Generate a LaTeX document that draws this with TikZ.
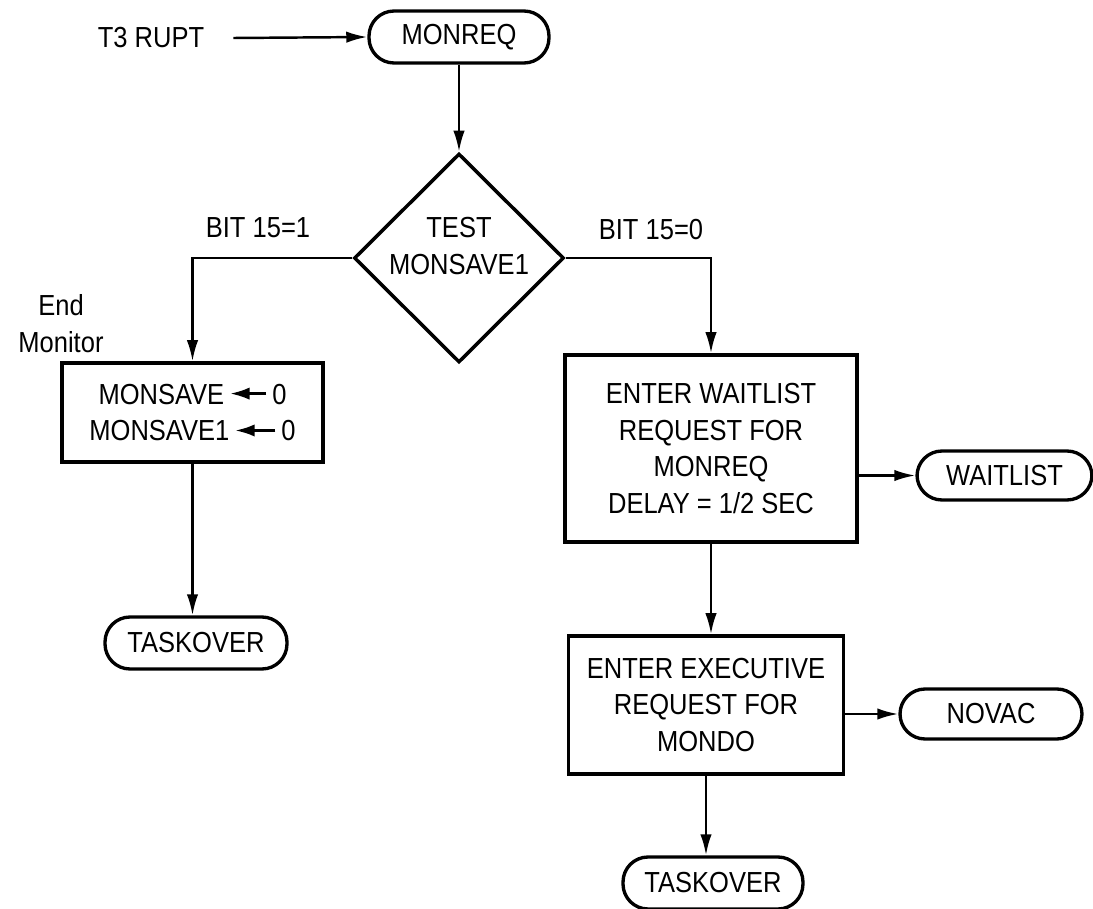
\documentclass[tikz,border=0pt]{standalone}
\usepackage{fontspec}
\setmainfont{Liberation Sans}[FakeStretch=0.88]
\usetikzlibrary{arrows.meta,shapes.geometric}

% lettering used throughout the chart
\newcommand\lettering{\fontsize{16.5}{21}\selectfont}
% small filled arrow used in the assignment statements
\newcommand\assignarrow[1]{\tikz[x=1cm,y=1cm,baseline=-0.36em]\draw[line width=1.4pt,-{Latex[length=11pt,width=7pt]}] (#1,0) -- (0,0);}

\tikzset{
  procbox/.style={draw, line width=2pt, align=center, inner sep=0pt},
  termbox/.style={draw, line width=1.9pt, rounded corners=0.5cm, minimum height=1.04cm, inner sep=0pt},
  decbox/.style={draw, diamond, line width=2pt, inner sep=0pt},
  flow/.style={line width=1.4pt, -{Latex[length=12pt,width=6.5pt]}},
}

\begin{document}
\begin{tikzpicture}[x=0.02cm, y=-0.02cm, font=\lettering]
  \useasboundingbox (0,0) rectangle (1093,909);

  % entry
  \node (t3) at (151,38) {T3 RUPT};
  \node[termbox, minimum width=3.6cm] (monreq) at (459,37) {MONREQ};

  % decision
  \node[decbox, minimum width=4.2cm, minimum height=4.18cm] (test) at (459,258) {};
  \node[align=center] (testtxt) at (459,246) {TEST\\MONSAVE1};
  \node (b1) at (258,228) {BIT 15=1};
  \node (b0) at (651,230) {BIT 15=0};

  % left branch
  \node[align=center] (endmon) at (61,324) {End\\Monitor};
  \node[procbox, minimum width=5.22cm, minimum height=1.98cm] (clear) at (192.5,412.5)
    {MONSAVE\,\assignarrow{0.72}\,0\\MONSAVE1\,\assignarrow{0.8}\,0};
  \node[termbox, minimum width=3.64cm] (task1) at (196,643) {TASKOVER};

  % right branch
  \node[procbox, minimum width=5.84cm, minimum height=3.74cm] (wait) at (711,448.5)
    {ENTER WAITLIST\\REQUEST FOR\\MONREQ\\DELAY = 1/2 SEC};
  \node[termbox, minimum width=3.5cm, minimum height=0.98cm] (wl) at (1004.5,475.5) {WAITLIST};
  \node[procbox, minimum width=5.5cm, minimum height=2.76cm] (exec) at (706,705)
    {ENTER EXECUTIVE\\REQUEST FOR\\MONDO};
  \node[termbox, minimum width=3.64cm, minimum height=1.0cm] (novac) at (991,714) {NOVAC};
  \node[termbox, minimum width=3.6cm] (task2) at (713,883) {TASKOVER};

  % connectors
  \draw[flow] ([xshift=0.46cm]t3.east) -- (monreq.west);
  \draw[flow] (monreq.south) -- (test.north);
  \draw[flow] (test.west) -| (clear.north);
  \draw[flow] (test.east) -| (wait.north);
  \draw[flow] (clear.south) -- (clear.south |- task1.north);
  \draw[flow] (wait.east |- wl.west) -- (wl.west);
  \draw[flow] (wait.south) -- (wait.south |- exec.north);
  \draw[flow] (exec.east |- novac.west) -- (novac.west);
  \draw[flow] (exec.south) -- (exec.south |- task2.north);
\end{tikzpicture}
\end{document}
